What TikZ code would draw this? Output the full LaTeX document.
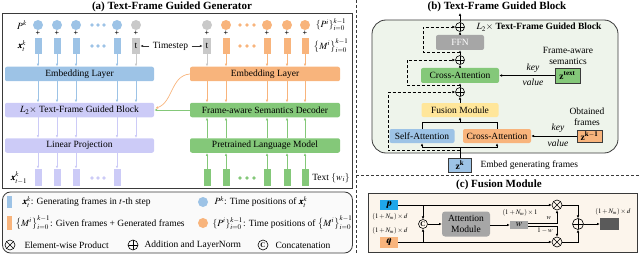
\documentclass[tikz,border=0pt]{standalone}
\usepackage{amsmath}
\usepackage{mathptmx}
\usepackage{bm}
\usepackage{fontspec}
\setmainfont{Liberation Serif}
\usetikzlibrary{arrows.meta,calc}
\definecolor{cblue}{HTML}{9DC3E6}
\definecolor{corange}{HTML}{F8B47C}
\definecolor{cgreen}{HTML}{84C879}
\definecolor{clav}{HTML}{CCCBF7}
\definecolor{cgray}{HTML}{C9C9C9}
\definecolor{cyellow}{HTML}{FFE69A}
\definecolor{cffn}{HTML}{A6A6A6}
\definecolor{bbg}{HTML}{EEF4EB}
\definecolor{cbg}{HTML}{FCF5EC}
\definecolor{pblue}{HTML}{1FA6EA}
\definecolor{lborder}{HTML}{3A3A3A}
\definecolor{cout}{HTML}{5A5A5A}
\tikzset{
  arr/.style={-{Latex[length=3pt,width=2.6pt]}, line width=0.7pt},
  sarr/.style={-{Latex[length=2.8pt,width=2.6pt]}, line width=0.6pt},
  bar/.style={rectangle, minimum width=7pt, minimum height=16pt, inner sep=0pt},
  tok/.style={circle, minimum size=10pt, inner sep=0pt},
  sdot/.style={circle, minimum size=3.8pt, inner sep=0pt},
  lyr/.style={rectangle, rounded corners=2pt, minimum width=149pt, minimum height=14.5pt, inner sep=0pt},
  pl/.style={font=\fontsize{8}{8}\selectfont\bfseries, inner sep=0pt},
  opl/.style={circle, draw=black, line width=0.6pt, minimum size=9pt, inner sep=0pt,
    path picture={\draw[line width=0.6pt] (path picture bounding box.north) -- (path picture bounding box.south) (path picture bounding box.west) -- (path picture bounding box.east);}},
  otm/.style={circle, draw=black, line width=0.6pt, minimum size=10pt, inner sep=0pt,
    path picture={\draw[line width=0.6pt] (path picture bounding box.north west) -- (path picture bounding box.south east) (path picture bounding box.south west) -- (path picture bounding box.north east);}},
  ccat/.style={circle, draw=black, line width=0.6pt, minimum size=9pt, inner sep=0pt, font=\fontsize{7}{7}\selectfont\bfseries},
  bbox/.style={rectangle, rounded corners=2pt, minimum height=15pt, inner sep=0pt},
  zbox/.style={rectangle, draw=lborder, line width=0.5pt, inner sep=0pt},
  smalllab/.style={font=\fontsize{6.8}{7.5}\selectfont, inner sep=0pt},
  ttl/.style={font=\fontsize{11}{12}\selectfont\bfseries, inner sep=0pt},
}
\begin{document}
\begin{tikzpicture}[x=1pt,y=-1pt,font=\fontsize{9.5}{11}\selectfont]
\useasboundingbox (0,0) rectangle (640,254);
% ---------------- panel (a) ----------------
\draw[lborder, line width=0.8pt] (2.5,13) rectangle (352.5,188);
\node[ttl] (ta) at (172,7) {(a) Text-Frame Guided Generator};
\node (lpk) at (22,25) {$P^k$};
\node (lxk) at (22,46) {$\bm{x}_t^k$};
\foreach \x/\n in {38/1,57/2,76/3,117/4}{
  \node[tok, fill=cblue] (pc\n) at (\x,25) {};
  \node[pl] (pp\n) at (\x,33) {+};
  \node[bar, fill=cblue] (xb\n) at (\x,46) {};
  \node[bar, fill=clav, minimum height=17pt] (ob\n) at (\x,177.5) {};
}
\node[tok, fill=cgray] (pc5) at (136,25) {};
\node[pl] (pp5) at (136,33) {+};
\node[bar, fill=cgray, minimum width=8pt] (xb5) at (136,46) {t};
\foreach \d in {92,98,104}{
  \node[sdot, fill=cblue] (da\d) at (\d,25) {};
  \node[sdot, fill=cblue] (db\d) at (\d,46) {};
  \node[sdot, fill=clav] (dc\d) at (\d,178) {};
}
\node[lyr, fill=cblue] (embL) at (79.5,74) {Embedding Layer};
\node[lyr, fill=clav] (blk) at (79.5,110) {$L_2\times$ Text-Frame Guided Block};
\node[lyr, fill=clav] (lp) at (79.5,145.5) {Linear Projection};
\node (lxo) at (19,178) {$\bm{x}_{t-1}^k$};
\foreach \n in {1,...,4}{
  \draw[arr, cblue] (xb\n.south) -- (xb\n.south |- embL.north);
  \draw[arr, clav] (lp.south -| xb\n) -- (ob\n.north);
}
\draw[arr, cgray] (xb5.south) -- (xb5.south |- embL.north);
\foreach \n in {1,...,5}{
  \draw[arr, cblue] (embL.south -| xb\n) -- (blk.north -| xb\n);
  \draw[arr, clav] (blk.south -| xb\n) -- (lp.north -| xb\n);
}
% right column
\node[tok, fill=cgray] (qc0) at (207,25) {};
\node[pl] (qp0) at (207,33) {+};
\node[bar, fill=cgray, minimum width=8pt] (rb0) at (207,46) {t};
\foreach \x/\n in {226/1,267/2,287/3,305/4}{
  \node[tok, fill=corange] (qc\n) at (\x,25) {};
  \node[pl] (qp\n) at (\x,33) {+};
  \node[bar, fill=corange] (rb\n) at (\x,46) {};
}
\foreach \x/\n in {207/0,226/1,267/2,287/3,305/4}{
  \node[bar, fill=cgreen, minimum height=17pt] (gb\n) at (\x,177.5) {};
}
\foreach \d in {240,247,254}{
  \node[sdot, fill=corange] (ea\d) at (\d,25) {};
  \node[sdot, fill=corange] (eb\d) at (\d,46) {};
  \node[sdot, fill=cgreen] (ec\d) at (\d,178) {};
}
\node (lpi) at (331,25) {$\{P^i\}_{i=0}^{k-1}$};
\node (lmi) at (331,46) {$\bigl\{M^i\bigr\}_{i=0}^{k-1}$};
\node (ltx) at (331,178) {Text $\{w_i\}$};
\node[lyr, fill=corange, minimum width=150pt] (embR) at (265,74) {Embedding Layer};
\node[lyr, fill=cgreen, minimum width=150pt] (dec) at (265,110) {Frame-aware Semantics Decoder};
\node[lyr, fill=cgreen, minimum width=150pt] (plm) at (265,145.5) {Pretrained Language Model};
\draw[arr, cgray] (rb0.south) -- (rb0.south |- embR.north);
\foreach \n in {1,...,4}{
  \draw[arr, corange] (rb\n.south) -- (rb\n.south |- embR.north);
}
\foreach \n in {0,...,4}{
  \draw[arr, corange] (embR.south -| rb\n) -- (dec.north -| rb\n);
  \draw[arr, cgreen] (plm.north -| gb\n) -- (dec.south -| gb\n);
  \draw[arr, cgreen] (gb\n.north) -- (plm.south -| gb\n);
}
\node (ts) at (170.5,46) {Timestep};
\draw[arr, black!80, line width=0.6pt] (ts.west) -- (xb5.east);
\draw[arr, black!80, line width=0.6pt] (ts.east) -- (rb0.west);
\draw[arr, corange] (embR.west) to[out=185, in=20] ($(blk.east)+(1,-1.5)$);
\draw[arr, cgreen] (dec.west) -- (blk.east);
% legend
\draw[lborder, fill=gray!4, line width=0.8pt, rounded corners=8pt] (2.5,192) rectangle (352.5,253);
\node[rectangle, fill=cblue, minimum width=5pt, minimum height=12pt, inner sep=0pt] (lg1) at (9.5,202) {};
\node[anchor=west] (lt1) at (19,202) {$\bm{x}_t^k$: Generating frames in $t$-th step};
\node[tok, fill=cblue] (lg2) at (203,202) {};
\node[anchor=west] (lt2) at (211,202) {$P^k$: Time positions of $\bm{x}_t^k$};
\node[rectangle, fill=corange, minimum width=5pt, minimum height=14pt, inner sep=0pt] (lg3) at (9.5,223) {};
\node[anchor=west] (lt3) at (12,223) {$\bigl\{M^i\bigr\}_{i=0}^{k-1}$: Given frames + Generated frames};
\node[tok, fill=corange] (lg4) at (203,223) {};
\node[anchor=west] (lt4) at (209,223) {$\{P^i\}_{i=0}^{k-1}$: Time positions of $\bigl\{M^i\bigr\}_{i=0}^{k-1}$};
\node[otm] (lg5) at (10,245) {};
\node[anchor=west] (lt5) at (21,245) {Element-wise Product};
\node[opl, minimum size=10pt] (lg6) at (133,245) {};
\node[anchor=west] (lt6) at (141,245) {Addition and LayerNorm};
\node[ccat, minimum size=10pt] (lg7) at (263,245) {C};
\node[anchor=west] (lt7) at (272,245) {Concatenation};
% separators
\draw[lborder, densely dashed, line width=0.8pt] (356,0) -- (356,254);
\draw[lborder, densely dashed, line width=0.8pt] (356,175) -- (640,175);
% ---------------- panel (b) ----------------
\node[ttl] (tb) at (497,7) {(b) Text-Frame Guided Block};
\draw[lborder, fill=bbg, line width=0.8pt, rounded corners=14pt] (372,20) rectangle (618,153);
\node[opl] (o1) at (460,27) {};
\node[opl] (o2) at (460,60) {};
\node[opl] (o3) at (460,92) {};
\node[anchor=west] (l2) at (473,27) {$L_2\times$ \textbf{Text-Frame Guided Block}};
\node[bbox, fill=cffn, minimum width=48pt, text=white] (ffn) at (460,42.5) {FFN};
\node[bbox, fill=cgreen, minimum width=78pt] (ca1) at (460,75.5) {Cross-Attention};
\node[bbox, fill=cyellow, minimum width=77pt, minimum height=14pt] (fus) at (460,110) {Fusion Module};
\node[bbox, fill=cblue, minimum width=65pt, minimum height=14pt] (sa) at (422,136) {Self-Attention};
\node[bbox, fill=corange, minimum width=68pt, minimum height=14pt] (ca2) at (497,136) {Cross-Attention};
\node[zbox, fill=cblue, minimum width=23pt, minimum height=14pt] (zk) at (460,165) {$\mathbf{z}^{\mathbf{k}}$};
\node[anchor=west] (emt) at (477,165) {Embed generating frames};
\coordinate (topout) at (460,13);
\draw[sarr] (o1.north) -- (topout);
\draw[sarr] (ffn.north) -- (o1.south);
\draw[sarr] (o2.north) -- (ffn.south);
\draw[sarr] (ca1.north) -- (o2.south);
\draw[sarr] (o3.north) -- (ca1.south);
\draw[sarr] (fus.north) -- (o3.south);
\coordinate (jt) at (460,122);
\coordinate (jb) at (460,147.5);
\draw[line width=0.6pt] (sa.north) -- (sa.north |- jt) -- (ca2.north |- jt) -- (ca2.north);
\draw[sarr] (jt) -- (fus.south);
\draw[line width=0.6pt] (zk.north) -- (jb);
\draw[line width=0.6pt] (sa.south |- jb) -- (ca2.south |- jb);
\draw[sarr] (sa.south |- jb) -- (sa.south);
\draw[sarr] (ca2.south |- jb) -- (ca2.south);
\coordinate (r1) at (460,52.5);
\coordinate (r2) at (460,85.5);
\coordinate (r3) at (460,150.5);
\draw[sarr, densely dashed] (r1) -- ++(-37,0) |- (o1.west);
\draw[sarr, densely dashed] (r2) -- ++(-53,0) |- (o2.west);
\draw[sarr, densely dashed] (r3) -- ++(-72,0) |- (o3.west);
\node[zbox, fill=cgreen, minimum width=25pt, minimum height=15pt] (zt) at (567.5,75.5) {$\mathbf{z}^{\textbf{text}}$};
\draw[sarr] (zt.west) -- (ca1.east);
\node[font=\fontsize{9.5}{11}\selectfont\itshape] (k1) at (533,68.5) {key};
\node[font=\fontsize{9.5}{11}\selectfont\itshape] (v1) at (533,82.5) {value};
\node[align=center] (fas) at (568,56) {Frame-aware\\semantics};
\node[zbox, fill=corange, minimum width=25pt, minimum height=12pt] (zk1) at (589.5,136) {$\mathbf{z}^{\mathbf{k-1}}$};
\draw[sarr] (zk1.west) -- (ca2.east);
\node[font=\fontsize{9.5}{11}\selectfont\itshape] (k2) at (558,128.5) {key};
\node[font=\fontsize{9.5}{11}\selectfont\itshape] (v2) at (558,143) {value};
\node[align=center] (obf) at (587,117) {Obtained\\frames};
% ---------------- panel (c) ----------------
\node[ttl] (tc) at (499,185) {(c) Fusion Module};
\draw[lborder, fill=cbg, line width=0.8pt] (368,193) rectangle (637,252);
\node[rectangle, fill=pblue, minimum width=18pt, minimum height=10pt, inner sep=0pt] (p) at (389,205) {$\bm{p}$};
\node[rectangle, fill=corange, minimum width=18pt, minimum height=11pt, inner sep=0pt] (q) at (389,242) {$\bm{q}$};
\node[smalllab] (dp) at (390,216.5) {$(1+N_m)\times d$};
\node[smalllab] (dq) at (390,231) {$(1+N_m)\times d$};
\node[ccat] (cc) at (423,224) {C};
\node[otm] (m1) at (557,205) {};
\node[otm] (m2) at (557,242) {};
\draw[sarr] (p.east) -- (m1.west);
\draw[sarr] (q.east) -- (m2.west);
\draw[sarr] (cc.north |- p.east) -- (cc.north);
\draw[sarr] (cc.south |- q.east) -- (cc.south);
\node[bbox, fill=cffn, rounded corners=3pt, minimum width=48pt, minimum height=25pt, align=center] (att) at (466,224) {Attention\\Module};
\draw[sarr] (cc.east) -- (att.west);
\node[rectangle, fill=cffn, minimum width=18pt, minimum height=8.5pt, inner sep=0pt] (w) at (519,225) {$w$};
\draw[sarr] (att.east |- w.west) -- (w.west);
\node[smalllab] (d1) at (520,213) {$(1+N_m)\times 1$};
\node[smalllab] (wl) at (549,218.5) {$w$};
\node[smalllab] (wl2) at (545,230.5) {$1-w$};
\draw[sarr] ([yshift=1.5pt]w.east) -| (m1.south);
\draw[sarr] ([yshift=-1.5pt]w.east) -| (m2.north);
\node[opl, minimum size=11pt] (ad) at (578,224) {};
\draw[sarr] (m1.east) -| (ad.north);
\draw[sarr] (m2.east) -| (ad.south);
\node[rectangle, fill=cout, minimum width=19pt, minimum height=12pt, inner sep=0pt] (out) at (609.5,224) {};
\draw[sarr] (ad.east) -- (out.west);
\node[smalllab] (d2) at (613,212) {$(1+N_m)\times d$};
\end{tikzpicture}
\end{document}
